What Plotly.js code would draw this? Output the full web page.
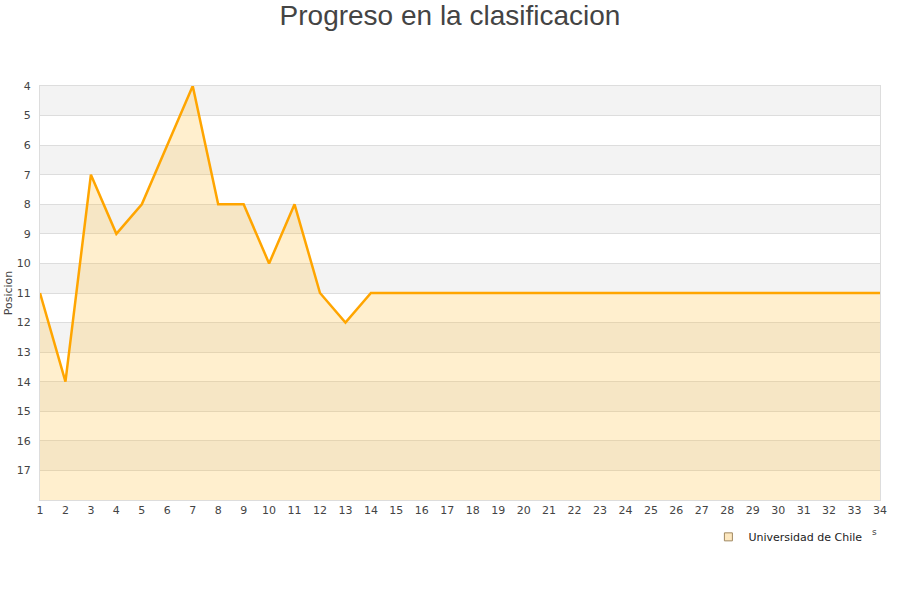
<!DOCTYPE html>
<html>
<head>
<meta charset="utf-8">
<script src="https://cdn.plot.ly/plotly-3.0.1.min.js"></script>
<style>html,body{margin:0;padding:0;background:#fff}#chart{width:900px;height:600px}</style>
</head>
<body>
<div id="chart"></div>
<script>
var jornadas = [1,2,3,4,5,6,7,8,9,10,11,12,13,14,15,16,17,18,19,20,21,22,23,24,25,26,27,28,29,30,31,32,33,34];
var posicion = [11,14,7,9,8,6,4,8,8,10,8,11,12,11,11,11,11,11,11,11,11,11,11,11,11,11,11,11,11,11,11,11,11,11];
var equipo = "Universidad de Chile";
var yTicks = [4,5,6,7,8,9,10,11,12,13,14,15,16,17];
var fondo = 18;
var bandas = [4,6,8,10,12,14,16];

var baseline = jornadas.map(function(){ return fondo; });

var traces = [
  {x: jornadas, y: baseline, mode: 'lines', line: {width: 0, color: 'rgba(0,0,0,0)'}, showlegend: false, hoverinfo: 'skip'},
  {x: jornadas, y: posicion, mode: 'lines', fill: 'tonexty', fillcolor: 'rgba(255,190,60,0.25)',
   line: {color: '#FFA500', width: 2.5}, showlegend: false, name: equipo},
  {x: [null], y: [null], mode: 'markers', name: equipo,
   marker: {symbol: 'square', size: 8, color: '#fde8c0', line: {color: '#a08860', width: 1}}}
];

var shapes = bandas.map(function(b){
  return {type: 'rect', xref: 'paper', x0: 0, x1: 1, yref: 'y', y0: b, y1: b + 1,
          fillcolor: '#f3f3f3', line: {width: 0}, layer: 'below'};
});

var layout = {
  width: 900, height: 600,
  margin: {l: 40, r: 20, t: 86, b: 100},
  paper_bgcolor: '#fff', plot_bgcolor: '#fff',
  font: {family: 'DejaVu Sans, sans-serif', size: 11, color: '#444'},
  title: {text: 'Progreso en la clasificacion', x: 0.5, xanchor: 'center', y: 0.975, yanchor: 'middle',
          font: {family: 'Liberation Sans, Arial, sans-serif', size: 28, color: '#444'}},
  xaxis: {range: [1, 34], tickvals: jornadas, ticktext: jornadas.map(String), showgrid: false,
          zeroline: false, showline: true, linecolor: '#ddd', mirror: true, ticks: '',
          tickfont: {size: 11, color: '#444'}, fixedrange: true},
  yaxis: {range: [fondo, 4], tickvals: yTicks, ticktext: yTicks.map(String), showgrid: true,
          gridcolor: '#ddd', zeroline: false, showline: true, linecolor: '#ddd', mirror: true,
          ticks: '', ticklabelstandoff: 6, tickfont: {size: 11, color: '#444'},
          title: {text: 'Posicion', font: {size: 11, color: '#444'}, standoff: 1}},
  shapes: shapes,
  showlegend: true,
  legend: {x: 0.985, xanchor: 'right', y: -0.089, yanchor: 'middle', orientation: 'h',
           itemwidth: 30, font: {size: 11, color: '#222'}, bgcolor: 'rgba(0,0,0,0)'},
  annotations: [{xref: 'paper', yref: 'paper', x: 0.994, y: -0.077, text: 's', showarrow: false,
                 font: {size: 9, color: '#444'}, xanchor: 'center', yanchor: 'middle'}]
};

Plotly.newPlot('chart', traces, layout, {displayModeBar: false, staticPlot: true});
</script>
</body>
</html>
